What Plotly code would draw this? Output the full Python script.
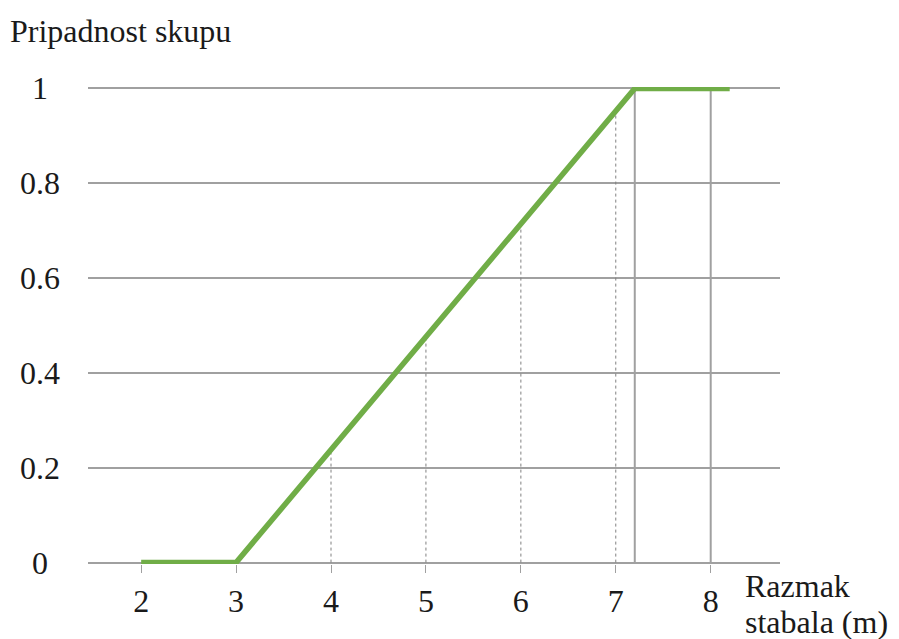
import plotly.graph_objects as go

# Data
line_x = [2, 3, 7.2, 8.2]
line_y = [0, 0, 1, 1]
drop_x = [4, 5, 6, 7]
drop_y = [0.238, 0.476, 0.714, 0.952]
vline_x = [7.2, 8]
x_ticks = [2, 3, 4, 5, 6, 7, 8]
x_tick_labels = ["2", "3", "4", "5", "6", "7", "8"]
y_ticks = [0, 0.2, 0.4, 0.6, 0.8, 1]
y_tick_labels = ["0", "0.2", "0.4", "0.6", "0.8", "1"]
x_title_lines = ["Razmak", "stabala (m)"]
y_title = "Pripadnost skupu"

FONT = "Liberation Serif"
GRID = "#a0a0a0"
TXT = "#1a1a1a"

fig = go.Figure()

# dotted drop lines
for xv, yv in zip(drop_x, drop_y):
    fig.add_trace(go.Scatter(x=[xv, xv], y=[0, yv], mode="lines",
                             line=dict(color="#808080", width=1, dash="dot"),
                             hoverinfo="skip", showlegend=False))
# solid vertical lines
for xv in vline_x:
    fig.add_trace(go.Scatter(x=[xv, xv], y=[1, -0.029], mode="lines",
                             line=dict(color=GRID, width=2),
                             cliponaxis=False, hoverinfo="skip", showlegend=False))

fig.add_trace(go.Scatter(x=line_x, y=line_y, mode="lines",
                         line=dict(color="#70AD47", width=5.5),
                         cliponaxis=False, showlegend=False))

annotations = []
for yv, lab in zip(y_ticks, y_tick_labels):
    annotations.append(dict(x=-0.07, xref="paper", y=yv, yref="y", text=lab,
                            showarrow=False, xanchor="center", yanchor="middle",
                            font=dict(family=FONT, size=32, color=TXT)))
annotations.append(dict(x=-0.116, xref="paper", y=1.117, yref="paper",
                        text=y_title, showarrow=False,
                        xanchor="left", yanchor="middle",
                        font=dict(family=FONT, size=32, color=TXT)))
for yp, txt in zip([-0.046, -0.121], x_title_lines):
    annotations.append(dict(x=0.947, xref="paper", y=yp, yref="paper",
                            text=txt, showarrow=False,
                            xanchor="left", yanchor="middle", align="left",
                            font=dict(family=FONT, size=32, color=TXT)))

fig.update_layout(
    width=891, height=631,
    margin=dict(l=80, r=119, t=79, b=75),
    plot_bgcolor="white", paper_bgcolor="white",
    xaxis=dict(range=[1.44, 8.73], tickvals=x_ticks, ticktext=x_tick_labels,
               showgrid=False, zeroline=False, showline=False,
               ticks="outside", ticklen=8, tickcolor=GRID, tickwidth=1,
               ticklabelstandoff=1,
               tickfont=dict(family=FONT, size=32, color=TXT)),
    yaxis=dict(range=[-0.003, 1.003], tickvals=y_ticks, showticklabels=False,
               showgrid=True, gridcolor=GRID, gridwidth=2, zeroline=False,
               showline=False),
    annotations=annotations,
)

fig.write_html("out.html")
